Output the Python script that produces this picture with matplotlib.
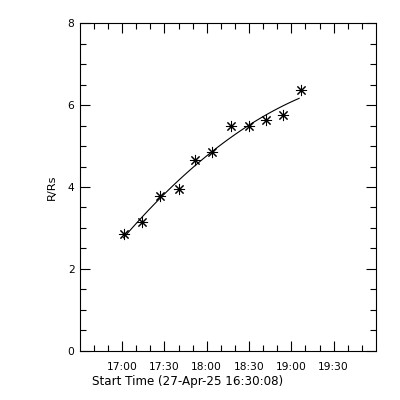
import matplotlib
matplotlib.use("Agg")
import matplotlib.pyplot as plt
import matplotlib.dates as mdates
import numpy as np
import pandas as pd

start = pd.Timestamp("2025-04-27 16:30:08")
end = pd.Timestamp("2025-04-27 19:59:59")

times = ["17:01", "17:14", "17:27", "17:40", "17:52", "18:04",
         "18:17", "18:30", "18:42", "18:54", "19:07"]
heights = [2.85, 3.14, 3.78, 3.95, 4.65, 4.86, 5.49, 5.49, 5.63, 5.76, 6.36]

t = pd.to_datetime(["2025-04-27 " + s for s in times])
mins = (t - start).total_seconds() / 60.0

# quadratic fit of height vs time
coef = np.polyfit(mins, heights, 2)
fit_m = np.linspace(mins.min(), mins.max() - 1.5, 100)
fit_t = start + pd.to_timedelta(fit_m, unit="m")
fit_h = np.polyval(coef, fit_m)

plt.rcParams["font.family"] = "DejaVu Sans"
plt.rcParams["font.size"] = 7.7

fig = plt.figure(figsize=(4, 4), dpi=100)
ax = fig.add_axes([0.2, 0.123, 0.74, 0.819])

ax.plot(fit_t, fit_h, color="black", lw=0.8)
ax.plot(t, heights, linestyle="none", marker=(8, 2, 0), ms=8, mew=0.75, color="black")

ax.set_xlim(start, end)
ax.set_ylim(0, 8)
ax.xaxis.set_major_locator(mdates.MinuteLocator(byminute=[0, 30]))
ax.xaxis.set_minor_locator(mdates.MinuteLocator(byminute=range(0, 60, 10)))
ax.xaxis.set_major_formatter(mdates.DateFormatter("%H:%M"))
ax.set_yticks([0, 2, 4, 6, 8])
ax.set_yticks(np.arange(0, 8.01, 0.5), minor=True)

ax.tick_params(which="both", direction="in", top=True, right=True, width=0.8)
ax.tick_params(which="major", length=7)
ax.tick_params(which="minor", length=4)
ax.tick_params(axis="x", which="major", pad=8)
ax.tick_params(axis="y", which="major", pad=4)
for s in ax.spines.values():
    s.set_linewidth(0.8)

ax.set_ylabel("R/Rs", labelpad=8, fontsize=8.2)
fig.text(0.47, 0.045, "Start Time (27-Apr-25 16:30:08)", ha="center", va="center", fontsize=8.6)

fig.savefig("out.png", dpi=100)
